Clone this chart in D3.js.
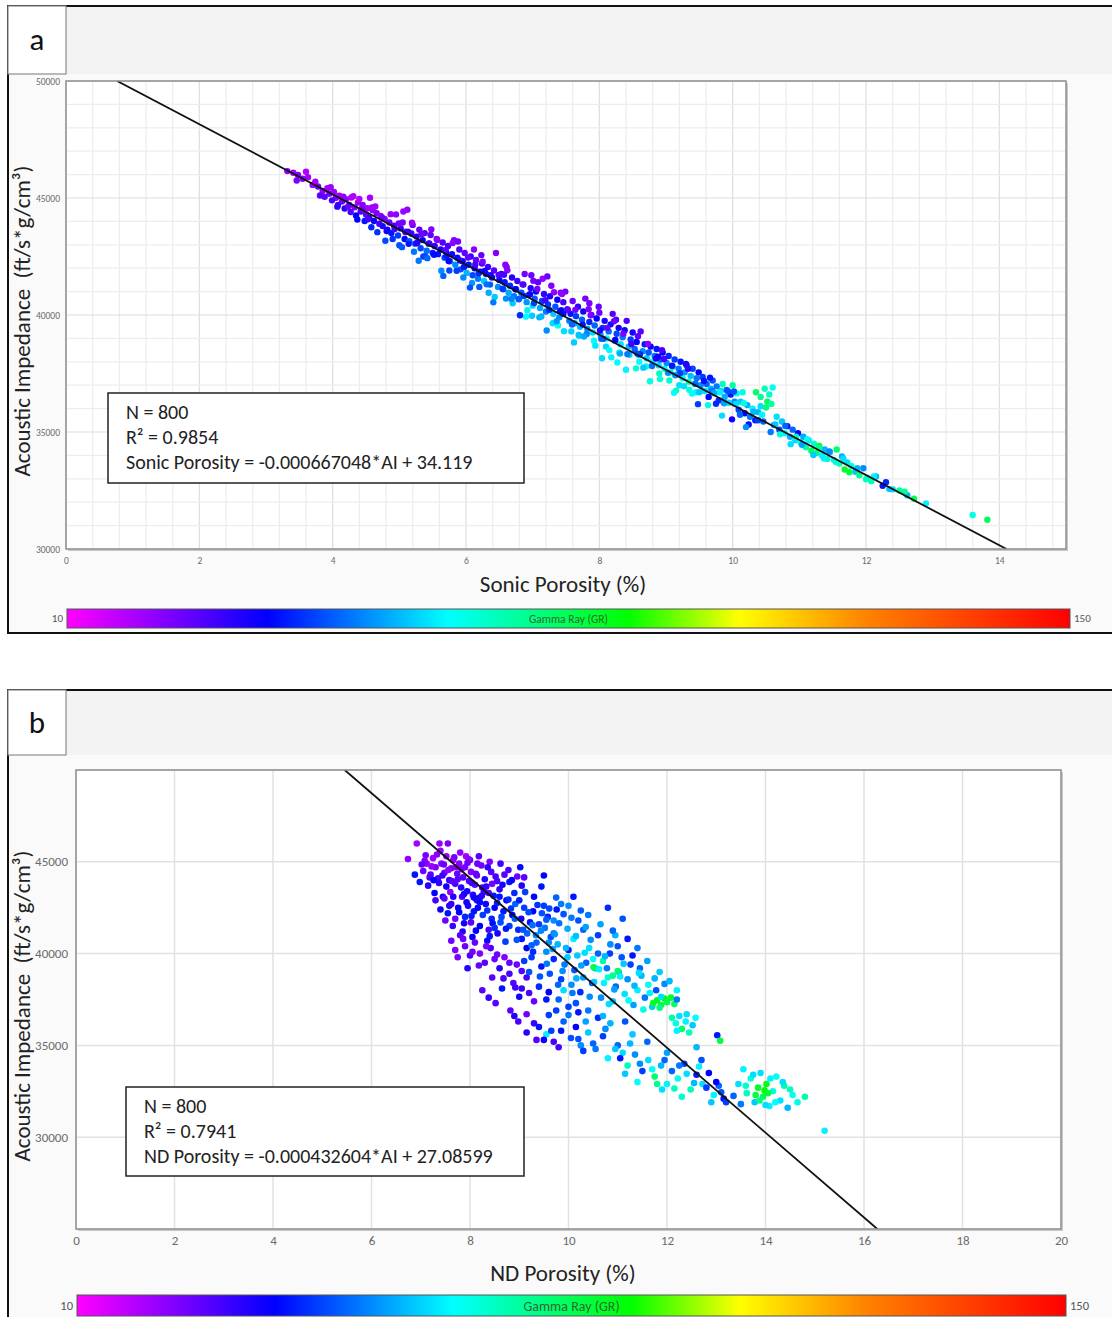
<!DOCTYPE html>
<html>
<head>
<meta charset="utf-8">
<script src="https://cdn.jsdelivr.net/npm/d3@7"></script>
<style>
  body { margin: 0; background: #ffffff; }
  svg { display: block; }
  text { font-family: Carlito, Lato, "Liberation Sans", sans-serif; }
</style>
</head>
<body>
<svg id="chart" width="1112" height="1317"></svg>
<script>
// ---------- data ----------
// Gamma ray colour scale (API units) and its colour stops along the bar
const grDomain = [10, 150];
const grStopOffsets = [0, 0.2, 0.38, 0.56, 0.67, 0.8, 1];
const grStopColors = ["#ff00ff", "#0000ff", "#00ffff", "#00ff00", "#ffff00", "#ff8000", "#ff0000"];

const sonicTicksX = [0, 2, 4, 6, 8, 10, 12, 14];
const sonicTicksY = [30000, 35000, 40000, 45000, 50000];
const ndTicksX = [0, 2, 4, 6, 8, 10, 12, 14, 16, 18, 20];
const ndTicksY = [30000, 35000, 40000, 45000];

const sonicStats = ["N = 800", "R² = 0.9854", "Sonic Porosity = -0.000667048*AI + 34.119"];
const ndStats = ["N = 800", "R² = 0.7941", "ND Porosity = -0.000432604*AI + 27.08599"];

const sonicSlope = -0.000667048, sonicIntercept = 34.119;
const ndSlope = -0.000432604, ndIntercept = 27.08599;

// [porosity %, acoustic impedance, gamma ray]
const sonicPoints = [
[3.32,46150,22],[3.41,46080,20],[3.48,45980,24],[3.60,46120,18],[3.55,45820,23],[3.70,45560,21],[3.78,45490,26],[3.85,45300,22],[3.92,45420,19],[3.95,45180,25],[4.02,45260,21],[3.88,45050,27],[4.05,45010,24],[3.99,44900,30],[3.74,45700,20],
[4.10,45100,20],[4.14,44850,26],[4.20,44950,22],[4.25,44700,28],[4.28,45020,19],[4.33,44600,24],[4.38,44810,21],[4.42,44420,30],[4.45,44700,23],[4.50,44300,27],[4.52,44560,20],[4.55,44150,33],[4.60,44480,22],[4.62,44020,36],[4.66,44350,25],[4.70,43900,31],[4.18,44550,34],[4.35,44250,38],[4.48,44020,40],[4.58,43750,42],[4.72,44230,21],[4.40,44960,18],[4.27,44400,29],[4.64,44640,19],[4.08,44700,31],
[4.75,43800,34],[4.78,44100,24],[4.82,43650,37],[4.85,43950,27],[4.88,43500,40],[4.92,43820,30],[4.95,44300,22],[4.98,43400,44],[5.02,43700,33],[5.05,43950,25],[5.08,43250,39],[5.10,43550,36],[5.12,44500,22],[5.15,43150,47],[5.18,43480,31],[5.20,43850,26],[5.24,43050,42],[5.26,43350,35],[5.30,43650,28],[5.32,42850,45],[5.35,43200,38],[5.38,43500,30],[5.41,42750,49],[5.44,43050,36],[5.47,43420,27],[5.50,42650,41],[4.90,43250,43],[5.00,42980,46],[5.22,42700,50],[5.36,42500,44],
[5.53,42950,33],[5.56,43250,26],[5.58,42600,40],[5.62,42800,36],[5.65,43100,29],[5.68,42450,44],[5.70,42700,38],[5.73,42950,31],[5.76,42300,48],[5.79,42600,35],[5.82,43200,24],[5.84,42150,52],[5.87,42450,39],[5.90,42800,30],[5.92,41950,46],[5.95,42300,37],[5.98,42650,28],[6.01,41800,56],[6.04,42150,40],[6.07,42500,33],[6.10,41700,45],[6.13,42000,38],[6.15,42350,27],[6.18,41550,50],[6.21,41850,36],[6.24,42200,30],[6.27,41450,58],[6.30,41750,41],[6.33,42050,32],[6.36,41300,47],[6.39,41600,39],[6.42,41900,29],[6.45,42650,24],[6.48,41200,52],[6.50,41500,37],[5.75,41900,45],[5.96,41600,52],[6.20,41200,47],[6.34,40950,55],[6.12,42800,23],
[6.53,41750,33],[6.56,41100,48],[6.58,41400,40],[6.61,42050,26],[6.64,40950,55],[6.66,41250,42],[6.69,41600,34],[6.72,40800,50],[6.75,41100,44],[6.77,41450,31],[6.80,40700,57],[6.83,40950,46],[6.86,41300,36],[6.88,41750,25],[6.91,40550,53],[6.94,40850,42],[6.97,41150,34],[7.00,40400,60],[7.03,40700,47],[7.05,41000,38],[7.08,41400,27],[7.11,40300,55],[7.14,40600,44],[7.17,40900,33],[7.20,40150,50],[7.23,40450,43],[7.26,40800,35],[7.28,41250,24],[7.31,40050,58],[7.34,40350,46],[7.37,40650,37],[7.40,39900,52],[7.43,40200,41],[7.46,40550,30],[7.49,41000,25],[6.70,40500,58],[6.92,40200,62],[7.10,39900,56],[7.30,39650,60],[7.15,41550,22],[7.42,40950,24],[7.38,39550,64],[6.60,40700,52],[6.98,41700,26],[7.22,41650,27],
[7.52,40250,31],[7.55,39750,50],[7.57,40050,40],[7.60,40600,26],[7.63,39650,54],[7.65,39950,44],[7.68,40350,33],[7.71,39500,57],[7.74,39800,47],[7.76,40150,36],[7.79,40700,25],[7.82,39400,52],[7.85,39700,42],[7.88,40000,34],[7.90,39250,60],[7.93,39550,48],[7.96,39850,38],[7.99,40350,27],[8.02,39150,55],[8.05,39450,43],[8.08,39750,35],[8.11,39000,62],[8.14,39300,49],[8.17,39600,40],[8.20,40050,29],[8.23,38900,57],[8.26,39200,45],[8.29,39450,36],[8.32,38750,60],[8.35,39050,50],[8.38,39350,39],[8.41,39750,30],[8.44,38650,56],[8.47,38950,44],[8.50,39250,35],[7.70,39100,62],[7.92,38900,64],[8.10,38650,60],[8.30,38400,66],[8.45,38300,58],[7.85,40500,24],[8.00,40100,26],[8.25,39800,30],[7.58,39300,59],[8.15,38500,63],
[8.53,38550,48],[8.56,38850,38],[8.59,38300,55],[8.62,39300,28],[8.65,38450,52],[8.68,38750,41],[8.71,38150,58],[8.74,38400,47],[8.77,38650,36],[8.80,38000,62],[8.83,38250,50],[8.86,38550,40],[8.89,37850,60],[8.92,38100,48],[8.95,38400,38],[8.98,37700,65],[9.01,37950,52],[9.04,38250,42],[9.07,37550,70],[9.10,37800,55],[9.13,38100,44],[9.16,37450,62],[9.19,37700,50],[9.22,38000,40],[9.25,37300,66],[9.28,37550,53],[9.31,37850,42],[9.34,37150,72],[9.37,37400,57],[9.40,37700,45],[9.43,37050,64],[9.46,37300,50],[9.49,37550,38],[8.70,37800,66],[8.90,37500,70],[9.05,37200,68],[9.20,37000,60],[9.35,36800,66],[8.60,38000,64],[9.45,36700,62],
[9.52,37000,52],[9.55,37350,44],[9.58,36750,60],[9.61,37050,48],[9.64,36500,38],[9.67,36850,56],[9.70,37200,46],[9.73,36650,63],[9.76,36950,50],[9.79,36350,42],[9.82,36750,58],[9.85,37050,70],[9.88,36500,55],[9.91,36800,47],[9.94,36250,60],[9.97,36600,40],[10.00,37000,72],[10.03,36300,52],[10.06,36650,64],[10.09,35950,45],[10.12,36300,58],[10.15,36700,66],[10.18,35800,38],[10.22,36150,55],[10.26,35650,50],[10.30,36000,62],[10.34,35500,40],[10.38,35850,56],[10.42,36100,60],[10.46,35450,48],
[10.35,36700,78],[10.42,36500,74],[10.48,36850,70],[10.52,36300,80],[10.55,36600,68],[10.58,36200,72],[10.60,36900,64],[10.50,36050,76],
[10.62,35300,52],[10.66,35650,60],[10.70,35100,45],[10.74,35450,58],[10.78,34950,62],[10.82,35250,40],[10.86,34800,56],[10.90,35100,48],[10.94,34650,60],[10.98,34950,36],[11.02,34550,64],[11.06,34800,55],[11.10,34350,72],[11.14,34650,60],[11.18,34200,80],[11.22,34500,68],[11.26,34100,76],[11.30,34400,84],[11.34,34000,62],[11.38,34250,56],[11.42,33850,70],[11.46,34150,58],
[11.52,33800,62],[11.56,34250,78],[11.60,33650,70],[11.64,33950,55],[11.68,33400,84],[11.72,33700,60],[11.78,33550,66],[11.84,33300,58],[11.90,33150,74],[11.96,33450,52],[12.02,33050,64],[12.08,32900,70],[12.15,33100,56],[12.25,32700,40],[12.30,32850,42],[12.40,32550,60],[12.50,32500,72],
[12.62,32300,56],[12.72,32150,80],[12.90,31950,62],[13.60,31450,66],[13.82,31250,80],
[3.46,45750,24],[3.63,45890,20],[3.81,45110,28],[3.97,45460,21],[4.07,44630,33],[4.16,45060,22],[4.23,44630,27],[4.31,45080,19],[4.37,44080,38],[4.44,44550,25],[4.53,44090,31],[4.59,44600,21],[4.67,43540,43],[4.74,44170,26],[4.81,43590,36],[4.87,44310,22],[4.93,43670,30],[4.99,43910,25],
[5.04,42900,47],[5.09,43550,29],[5.14,43040,40],[5.19,43940,21],[5.27,43090,34],[5.33,43450,26],[5.39,42510,45],[5.45,43060,31],[5.52,42570,39],[5.57,43210,23],[5.63,41890,52],[5.69,42770,28],[5.74,42310,37],[5.80,43080,22],[5.86,41890,44],[5.91,42330,33],[5.97,42050,40],
[6.03,42460,27],[6.09,41370,53],[6.14,42160,30],[6.19,41780,42],[6.25,42280,24],[6.31,41310,49],[6.37,41700,35],[6.43,40770,58],[6.49,41710,29],[6.55,41120,44],[6.62,41910,23],[6.68,40690,51],[6.74,41100,38],[6.79,40670,47],[6.85,41310,28],[6.90,39930,63],[6.96,40890,36],
[7.02,40510,44],[7.07,41110,25],[7.13,39940,56],[7.19,40630,31],[7.25,40220,42],[7.32,40970,22],[7.36,39730,53],[7.41,40160,37],[7.47,39310,60],[7.53,40210,28],[7.59,39590,48],[7.64,40220,25],[7.69,39150,57],[7.75,39590,40],[7.81,39190,51],[7.87,39990,24],[7.94,38690,61],
[8.01,39340,34],[8.06,38980,46],[8.12,39450,27],[8.18,38190,62],[8.24,38930,38],[8.31,38350,55],[8.36,39200,24],[8.42,38330,50],[8.48,38760,31],[8.55,37720,66],[8.61,38330,42],[8.66,37750,58],[8.73,38760,23],[8.79,37820,49],[8.85,38140,35],[8.91,37260,67],[8.97,38120,30],
[9.03,37530,52],[9.09,37830,40],[9.15,36770,70],[9.21,37510,44],[9.27,36960,60],[9.33,37700,33],[9.39,36640,64],[9.44,37060,48],[9.50,36700,58],[9.57,37180,40],[9.63,36150,66],[9.69,36760,50],[9.75,36210,42],[9.81,36700,62],[9.87,36230,54],[9.93,36740,46],[9.99,35540,36],
[10.05,36200,60],[10.11,35740,48],[10.17,36230,66],[10.24,35320,40],[10.31,35860,56],[10.38,35500,44],[10.44,35740,62],[10.57,35000,50],[10.64,35320,58],[10.71,34900,66],[10.79,35260,48],[10.87,34480,60],[10.95,34800,70],
[11.04,34450,54],[11.12,34690,64],[11.21,34020,58],[11.29,34330,74],[11.37,33870,62],[11.45,34170,52],[11.55,33720,68],[11.66,33870,60],[11.75,33280,82],[11.87,33450,56],[12.00,32980,70],[12.12,33100,62],[12.35,32560,58],[12.58,32450,74],
[4.56,45010,20],[4.79,43170,45],[5.06,44420,21],[5.29,42320,50],[5.48,43660,24],[5.66,41670,48],[5.88,43140,25],[6.06,41170,46],[6.23,42560,27],[6.41,40540,50],[6.59,42150,23],[6.81,39990,42],[7.01,41460,26],[7.21,39340,52],[7.44,40900,22],[7.62,38830,58],[7.84,40250,24],[8.04,38150,60],[8.22,39730,26],[8.40,37660,62],[8.58,39090,28],[8.76,37170,66],[8.94,38500,30],[9.12,36680,64],[9.30,37910,34],[9.48,36190,44],[9.66,37320,40],[9.84,35700,60],[10.02,36730,46],[10.20,35210,52],
[5.13,43560,32],[5.71,42530,40],[6.28,41880,36],[6.87,40810,44],[7.46,40050,39],[8.03,38990,47],[8.57,38350,45],[9.14,37420,52],[9.72,36670,55],[6.57,41720,30],[7.77,39080,55],[8.88,38220,36],[5.42,42430,48],[6.99,39970,58],[8.27,37970,64]
];

// [porosity %, acoustic impedance, gamma ray]
const ndPoints = [
[6.74,45150,22],[6.92,46000,20],[7.38,46000,22],[7.55,46000,24],[7.05,44500,26],[7.12,44900,22],[7.20,44300,28],[7.25,45200,20],[7.30,44700,25],[7.35,44100,30],[7.42,44900,23],[7.48,44400,27],[7.52,45300,21],[7.58,44000,32],[7.62,44650,24],[7.66,45100,22],[7.70,43800,30],[7.74,44350,26],[7.78,44900,23],[7.82,43600,34],[7.86,44150,28],[7.90,44700,25],[7.94,43400,36],[7.98,43950,29],[8.02,44450,24],[8.06,43200,33],[8.10,43750,27],[8.14,44250,26],[8.20,43050,38],[8.25,43600,30],[8.30,44050,34],[8.38,43300,28],[8.45,43800,25],[8.52,44200,30],[8.60,43500,33],[7.15,43700,34],[7.28,43300,38],[7.45,43100,36],[6.98,43900,40],[7.60,43350,22],[7.92,45300,20],[8.15,44900,26],[8.40,45000,24],[8.70,44300,28],[7.80,45500,22],[7.10,45350,24],[7.40,45600,21],[8.00,45100,27],
[8.96,44200,26],[9.10,44150,28],[9.50,44250,38],[8.80,43900,40],[8.90,43300,42],[9.05,43700,34],
[7.30,42900,30],[7.40,42400,36],[7.48,43000,28],[7.55,42200,40],[7.62,42700,32],[7.70,41900,26],[7.76,42500,38],[7.84,43100,30],[7.90,42000,42],[7.96,42600,35],[8.02,41700,28],[8.08,42300,40],[8.14,42900,33],[8.20,41500,38],[8.26,42100,44],[8.32,42700,36],[8.38,41300,30],[8.44,41900,42],[8.50,42500,38],[8.56,41100,35],[8.62,41700,46],[8.68,42300,40],[8.74,42900,37],[8.80,41500,44],[8.86,42100,38],[8.92,42700,48],[8.98,41300,42],[9.04,41900,36],[9.10,42500,44],[9.16,41100,48],[9.22,41700,40],[9.28,42300,38],[9.34,41000,52],[9.40,41600,44],[9.46,42200,46],[9.52,41400,50],[9.58,42000,42],[9.64,40900,46],[9.70,41800,52],[9.76,42400,40],[7.65,41500,32],[7.85,41200,34],[8.05,40900,38],[8.35,40700,36],[7.50,41800,26],[9.85,42700,50],[10.10,43100,40],[10.80,42500,42],[9.30,43100,38],[8.60,43100,40],
[7.62,40700,26],[7.70,40200,24],[7.80,41000,28],[7.90,40400,26],[8.00,39900,30],[8.10,40600,27],[8.20,40000,24],[8.30,39500,28],[8.42,40300,30],[8.50,39700,26],[8.60,39200,34],[8.70,39800,24],[8.80,38900,30],[8.88,38400,28],[8.95,39400,26],[9.05,38100,32],[9.15,38700,30],[8.25,38000,28],[9.30,37400,26],[9.00,37650,36],[8.65,38100,40],[7.95,39200,34],
[9.05,40800,40],[9.15,40300,38],[9.25,39800,44],[9.35,40600,48],[9.45,39300,40],[9.55,40100,52],[9.62,38900,46],[9.70,39700,42],[9.78,40500,56],[9.85,38600,44],[9.92,39400,50],[10.00,40200,40],[10.06,38300,52],[10.12,39100,46],[10.18,39900,58],[10.24,37900,42],[10.30,38700,54],[10.36,39500,48],[10.42,40300,60],[10.48,38400,46],[10.54,39200,56],[10.60,40000,48],[10.66,37600,52],[10.72,38400,62],[10.78,39200,50],[10.84,40000,44],[10.90,37400,58],[10.96,38200,48],[11.02,39000,56],[11.08,39800,46],[11.14,37800,60],[11.20,38600,52],[11.26,39400,44],[11.32,37200,54],[11.40,38000,62],[11.48,38800,56],[11.55,37600,50],[11.62,38300,64],[11.70,37100,58],[11.78,38000,46],[9.40,38200,42],[9.60,37900,38],[9.80,37500,48],[10.00,37100,44],[10.20,36800,40],[9.20,39000,46],[9.70,41100,50],[10.30,41300,48],[10.60,41000,44],[11.00,40400,46],[11.20,40800,40],[10.10,40800,62],[10.50,39700,64],[9.90,38000,60],[10.80,38700,68],[11.30,39900,40],[11.45,39200,48],[10.95,41000,56],[10.20,41800,46],[9.50,42600,44],
[10.51,39250,82],[11.00,39050,78],[10.70,39600,72],[10.90,38800,74],
[8.82,36900,28],[8.98,36300,30],[9.15,36700,26],[9.40,36000,40],[9.55,35600,62],[9.65,35800,44],[9.70,35200,30],[9.90,36300,48],[10.05,35400,46],[10.15,36000,38],[10.25,35000,52],[10.40,35700,58],[10.55,34800,50],[10.70,35500,44],[10.85,36200,56],[11.00,35000,48],[11.10,34600,60],[9.35,35300,28],[9.15,35700,34],[10.60,36500,42],[11.15,36300,46],
[11.72,37300,84],[11.80,37450,86],[11.88,37200,82],[11.95,37550,88],[12.00,37350,80],[12.08,37600,84],[12.15,37250,78],[11.85,37050,76],[12.20,37500,50],
[12.10,36500,72],[12.18,36200,66],[12.25,36600,60],[12.30,35900,78],[12.38,36300,62],[12.45,35700,70],[12.52,36100,58],[12.58,36500,64],[12.20,35800,62],[12.40,36700,60],
[13.02,35550,40],[13.08,35250,82],[12.60,34900,56],
[11.05,34300,40],[11.20,33900,70],[11.35,34500,52],[11.50,33600,44],[11.62,34200,60],[11.75,33300,78],[11.88,33900,56],[12.00,32900,62],[12.10,33600,48],[12.22,33200,66],[12.35,34000,44],[12.48,32600,70],[12.60,33400,40],[12.72,32900,60],[12.85,33500,38],[12.95,32300,62],[13.05,32800,48],[13.15,32100,40],[11.40,33000,64],[11.90,32600,60],[12.30,32200,68],[11.60,35200,48],[12.00,34600,54],[12.70,34200,46],[11.30,35600,58],
[13.45,32900,60],[13.55,33700,62],[13.62,32400,70],[13.70,33200,66],[13.78,31900,58],[13.85,32700,84],[13.90,33500,60],[13.95,32200,80],[14.02,32900,86],[14.08,31700,62],[14.15,32500,66],[14.22,33300,64],[14.30,32000,60],[14.38,32800,72],[14.45,31600,56],[14.55,32300,64],[13.50,31800,50],[13.98,32550,88],[14.10,33200,62],[14.80,32200,72],[15.20,30350,62],[13.20,31900,44],[13.35,32250,48],
[7.08,45050,24],[7.22,44750,21],[7.33,45400,23],[7.47,44850,26],[7.56,44550,22],[7.68,45250,25],[7.75,44050,29],[7.83,44600,24],[7.97,45150,22],[8.04,43850,31],[8.12,44350,27],[8.23,44800,25],[8.33,43650,33],[8.43,44450,28],[8.55,43950,30],[7.18,44150,30],[7.37,43850,33],[7.52,43650,36],[7.63,43950,28],[7.88,43250,35],[8.08,43050,37],[8.28,43350,32],[8.48,43150,40],[8.66,43750,35],[8.78,44550,30],[7.02,44850,27],[6.88,44300,40],[7.26,44000,37],[7.44,44250,31],[7.72,44700,24],[7.95,44950,26],[8.18,45300,29],[8.36,44700,33],[8.62,44900,31],[8.85,44000,37],[9.02,44700,39],
[7.66,43100,34],[7.78,42250,38],[7.93,42800,36],[8.03,42050,41],[8.16,42500,37],[8.24,43150,33],[8.35,42350,43],[8.46,41650,39],[8.55,42750,41],[8.64,42000,45],[8.73,41350,40],[8.83,42450,43],[8.91,41900,47],[9.00,42900,41],[9.08,41300,46],[9.19,42250,45],[9.27,41550,49],[9.37,42650,43],[9.44,41250,51],[9.55,41850,47],[9.61,42450,45],[9.72,41050,53],[9.81,41650,49],[9.90,42150,46],[9.98,41350,55],[10.06,41950,50],[10.15,40950,57],[10.25,42350,47],[10.35,41450,54],[10.45,40750,52],[8.12,41250,37],[8.40,40950,40],[8.72,40650,44],[8.50,41400,42],[8.95,40750,46],[9.25,40450,48],[9.60,40600,52],[9.95,40300,56],[7.58,42600,33],[7.88,41650,36],[8.20,42800,39],[8.78,42950,42],[9.12,43350,44],[9.45,43650,40],[9.75,43050,48],[10.00,42600,52],[10.40,42100,50],[10.65,41600,54],[10.90,41250,48],[11.10,41900,46],
[9.10,39600,44],[9.28,40100,42],[9.42,38750,46],[9.56,39450,50],[9.68,40250,54],[9.79,38300,48],[9.88,39050,52],[9.98,39800,58],[10.08,37850,50],[10.16,38650,56],[10.26,39350,54],[10.33,40050,60],[10.43,37650,52],[10.52,38450,58],[10.62,39150,62],[10.74,39850,56],[10.82,37250,60],[10.93,38050,54],[11.05,38750,62],[11.12,39450,58],[11.22,37450,64],[11.34,38250,56],[11.43,38950,60],[11.52,36950,66],[11.65,37850,62],[11.75,38650,56],[11.88,37650,60],[11.95,38350,52],[10.15,37300,46],[10.40,36900,50],[10.70,36600,56],[9.75,36900,44],[9.55,37500,40],[10.85,40500,52],[11.40,40300,50],[11.60,39600,54],[11.85,39000,58],[12.05,38500,56],[12.20,38000,62],
[7.75,39800,24],[7.86,40800,26],[8.05,40100,25],[8.18,39350,27],[8.33,40400,24],[8.45,38700,28],[8.55,39950,26],[8.68,38650,30],[8.80,39500,27],[8.92,38150,31],[9.05,39050,29],[9.20,37850,30],[8.38,37600,32],[8.52,37300,28],[8.90,36600,34],
[9.30,36200,32],[9.50,35300,36],[9.60,36650,44],[9.85,35800,40],[10.00,36650,50],[10.20,35350,46],[10.35,36300,54],[10.50,35100,48],[10.75,35900,52],[10.95,34800,58],[9.80,34900,30],[10.30,34700,44],[10.80,34300,62],[11.25,35100,56],
[11.15,33450,58],[11.45,34000,52],[11.70,33700,64],[11.95,34200,48],[12.15,32650,70],[12.40,33450,60],[12.55,32950,56],[12.80,32700,44],[13.00,33000,38],[12.25,33900,50],[11.80,32900,74],[12.65,33850,62],[13.10,32450,46],[12.90,31900,58],
[13.60,32800,68],[13.75,33400,60],[13.88,32000,76],[14.05,32400,84],[14.20,31900,64],[14.35,33000,60],[14.50,32600,70],[13.80,32300,82],[14.00,31750,60],[14.65,31900,66]
];

// ---------- drawing ----------
const svg = d3.select("#chart");
const defs = svg.append("defs");

const grColor = d3.scaleLinear()
  .domain(grStopOffsets.map(o => grDomain[0] + o * (grDomain[1] - grDomain[0])))
  .range(grStopColors)
  .interpolate(d3.interpolateRgb)
  .clamp(true);

const grad = defs.append("linearGradient").attr("id", "grGradient")
  .attr("x1", "0%").attr("x2", "100%").attr("y1", "0%").attr("y2", "0%");
grStopOffsets.forEach((o, i) => grad.append("stop").attr("offset", o).attr("stop-color", grStopColors[i]));

function drawPanel(cfg) {
  const g = svg.append("g");
  const { frame, plot } = cfg;

  // panel frame and header strip
  g.append("rect").attr("x", frame.x).attr("y", frame.y).attr("width", frame.w).attr("height", frame.h)
    .attr("fill", "#fafafa");
  g.append("rect").attr("x", frame.x).attr("y", frame.y).attr("width", frame.w).attr("height", cfg.headerH)
    .attr("fill", "#f3f3f3");
  g.append("rect").attr("x", frame.x).attr("y", frame.y).attr("width", frame.w).attr("height", frame.h)
    .attr("fill", "none").attr("stroke", "#111").attr("stroke-width", 2);

  // panel letter box
  g.append("rect").attr("x", frame.x).attr("y", frame.y).attr("width", 58).attr("height", cfg.headerH)
    .attr("fill", "#ffffff").attr("stroke", "#8c8c8c").attr("stroke-width", 1.2);
  g.append("text").attr("x", frame.x + 29).attr("y", frame.y + cfg.headerH / 2 + 10)
    .attr("text-anchor", "middle").attr("font-size", 31).attr("fill", "#111").text(cfg.letter);

  const x = d3.scaleLinear().domain(cfg.xDomain).range([plot.x0, plot.x1]);
  const y = d3.scaleLinear().domain(cfg.yDomain).range([plot.y1, plot.y0]);

  // plot background with soft drop shadow
  g.append("rect").attr("x", plot.x0 + 2).attr("y", plot.y0 + 2)
    .attr("width", plot.x1 - plot.x0).attr("height", plot.y1 - plot.y0).attr("fill", "#c8c8c8");
  g.append("rect").attr("x", plot.x0).attr("y", plot.y0)
    .attr("width", plot.x1 - plot.x0).attr("height", plot.y1 - plot.y0).attr("fill", "#ffffff");

  // grid
  const grid = g.append("g");
  cfg.gridX.forEach(v => {
    const major = Math.abs(v / cfg.majorX - Math.round(v / cfg.majorX)) < 1e-6;
    grid.append("line").attr("x1", x(v)).attr("x2", x(v)).attr("y1", plot.y0).attr("y2", plot.y1)
      .attr("stroke", major ? cfg.gridMajor : cfg.gridMinor).attr("stroke-width", cfg.gridWidth);
  });
  cfg.gridY.forEach(v => {
    const major = Math.abs(v / cfg.majorY - Math.round(v / cfg.majorY)) < 1e-6;
    grid.append("line").attr("y1", y(v)).attr("y2", y(v)).attr("x1", plot.x0).attr("x2", plot.x1)
      .attr("stroke", major ? cfg.gridMajor : cfg.gridMinor).attr("stroke-width", cfg.gridWidth);
  });

  const clipId = "clip-" + cfg.letter;
  defs.append("clipPath").attr("id", clipId).append("rect")
    .attr("x", plot.x0).attr("y", plot.y0).attr("width", plot.x1 - plot.x0).attr("height", plot.y1 - plot.y0);

  // scatter points coloured by gamma ray
  g.append("g").attr("clip-path", `url(#${clipId})`)
    .selectAll("circle").data(cfg.points).join("circle")
    .attr("cx", d => x(d[0])).attr("cy", d => y(d[1])).attr("r", cfg.r)
    .attr("fill", d => grColor(d[2]));

  // regression line: porosity = slope * AI + intercept
  const fitAI = [cfg.yDomain[1], cfg.yDomain[0]];
  g.append("line").attr("clip-path", `url(#${clipId})`)
    .attr("x1", x(cfg.slope * fitAI[0] + cfg.intercept)).attr("y1", y(fitAI[0]))
    .attr("x2", x(cfg.slope * fitAI[1] + cfg.intercept)).attr("y2", y(fitAI[1]))
    .attr("stroke", "#111").attr("stroke-width", 1.8);

  // plot border
  g.append("rect").attr("x", plot.x0).attr("y", plot.y0)
    .attr("width", plot.x1 - plot.x0).attr("height", plot.y1 - plot.y0)
    .attr("fill", "none").attr("stroke", "#8f8f8f").attr("stroke-width", 1.5);

  // axes
  const xAxis = g.append("g").attr("transform", `translate(0,${plot.y1})`)
    .call(d3.axisBottom(x).tickValues(cfg.ticksX).tickSize(0).tickPadding(cfg.xPad).tickFormat(d3.format("d")));
  const yAxis = g.append("g").attr("transform", `translate(${plot.x0},0)`)
    .call(d3.axisLeft(y).tickValues(cfg.ticksY).tickSize(0).tickPadding(cfg.yPad).tickFormat(d3.format("d")));
  [xAxis, yAxis].forEach(a => {
    a.select(".domain").remove();
    a.selectAll("text").attr("font-size", cfg.tickFont).attr("fill", "#6a6a6a")
      .style("font-family", "Carlito, Lato, 'Liberation Sans', sans-serif");
  });

  // axis titles
  g.append("text").attr("x", cfg.xTitle.x).attr("y", cfg.xTitle.y).attr("text-anchor", "middle")
    .attr("font-size", 23).attr("fill", "#222").text(cfg.xTitle.text);
  g.append("text").attr("transform", `translate(${cfg.yTitle.x},${cfg.yTitle.y}) rotate(-90)`)
    .attr("text-anchor", "middle").attr("font-size", 23).attr("fill", "#222")
    .attr("xml:space", "preserve").style("white-space", "pre")
    .text("Acoustic Impedance  (ft/s*g/cm³)");

  // statistics box
  const lb = cfg.legend;
  g.append("rect").attr("x", lb.x).attr("y", lb.y).attr("width", lb.w).attr("height", lb.h)
    .attr("fill", "#ffffff").attr("stroke", "#222").attr("stroke-width", 1.5);
  cfg.stats.forEach((s, i) => {
    g.append("text").attr("x", lb.x + 18).attr("y", lb.y + 26 + i * 25)
      .attr("font-size", 20).attr("fill", "#222").text(s);
  });

  // gamma ray colour bar
  const cb = cfg.colorbar;
  g.append("rect").attr("x", cb.x0).attr("y", cb.y).attr("width", cb.x1 - cb.x0).attr("height", cb.h)
    .attr("fill", "url(#grGradient)").attr("stroke", "#555").attr("stroke-width", 1);
  g.append("text").attr("x", cb.x0 - 4).attr("y", cb.y + cb.h / 2 + cb.endFont * 0.36).attr("text-anchor", "end")
    .attr("font-size", cb.endFont).attr("fill", "#555").text(grDomain[0]);
  g.append("text").attr("x", cb.x1 + 4).attr("y", cb.y + cb.h / 2 + cb.endFont * 0.36)
    .attr("font-size", cb.endFont).attr("fill", "#555").text(grDomain[1]);
  g.append("text").attr("x", (cb.x0 + cb.x1) / 2).attr("y", cb.y + cb.h / 2 + cb.font * 0.36).attr("text-anchor", "middle")
    .attr("font-size", cb.font).attr("fill", "#2f6a2f").text("Gamma Ray (GR)");
}

drawPanel({
  letter: "a",
  frame: { x: 8, y: 6, w: 1112, h: 627 },
  headerH: 68,
  plot: { x0: 66, x1: 1066, y0: 81, y1: 549 },
  xDomain: [0, 15], yDomain: [30000, 50000],
  gridX: d3.range(0, 15.001, 0.4), gridY: d3.range(30000, 50001, 1000),
  majorX: 2, majorY: 5000,
  gridMinor: "#ededed", gridMajor: "#dedede", gridWidth: 1.2,
  ticksX: sonicTicksX, ticksY: sonicTicksY,
  xPad: 8, yPad: 6, tickFont: 9.5,
  points: sonicPoints, r: 3.2,
  slope: sonicSlope, intercept: sonicIntercept,
  xTitle: { x: 563, y: 592, text: "Sonic Porosity (%)" },
  yTitle: { x: 30, y: 321 },
  legend: { x: 108, y: 393, w: 416, h: 90 },
  stats: sonicStats,
  colorbar: { x0: 67, x1: 1070, y: 609, h: 19, font: 11.5, endFont: 11 }
});

drawPanel({
  letter: "b",
  frame: { x: 8, y: 690, w: 1112, h: 640 },
  headerH: 65,
  plot: { x0: 76, x1: 1061, y0: 770, y1: 1229 },
  xDomain: [0, 20], yDomain: [25000, 50000],
  gridX: d3.range(0, 20.001, 2), gridY: d3.range(25000, 50001, 5000),
  majorX: 2, majorY: 5000,
  gridMinor: "#e2e2e2", gridMajor: "#e2e2e2", gridWidth: 1.5,
  ticksX: ndTicksX, ticksY: ndTicksY,
  xPad: 7, yPad: 8, tickFont: 13,
  points: ndPoints, r: 3.3,
  slope: ndSlope, intercept: ndIntercept,
  xTitle: { x: 563, y: 1281, text: "ND Porosity (%)" },
  yTitle: { x: 30, y: 1006 },
  legend: { x: 126, y: 1087, w: 398, h: 89 },
  stats: ndStats,
  colorbar: { x0: 77, x1: 1066, y: 1295, h: 21, font: 14, endFont: 12.5 }
});
</script>
</body>
</html>
